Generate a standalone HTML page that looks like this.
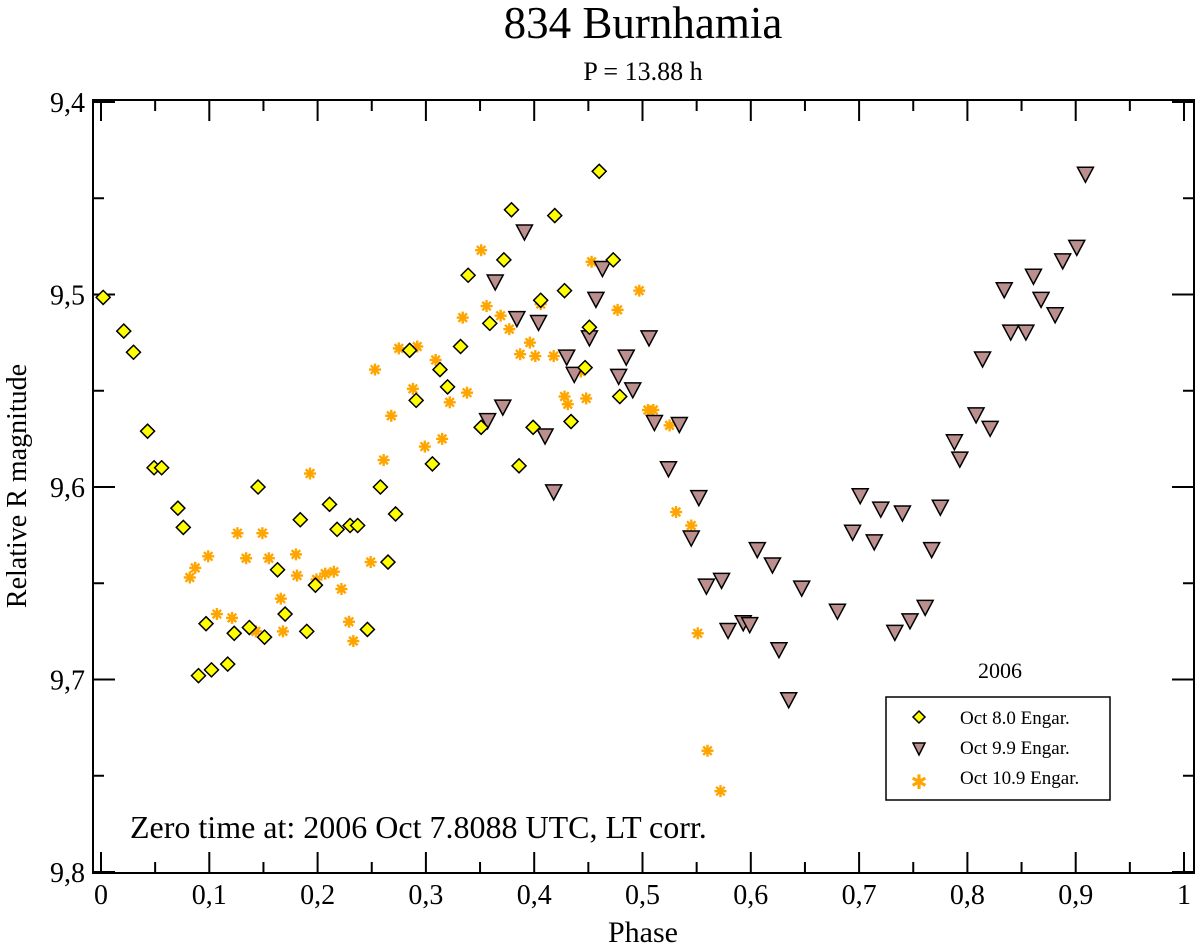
<!DOCTYPE html>
<html><head><meta charset="utf-8"><style>
body{margin:0;background:#fff}
svg text{font-family:"Liberation Serif",serif;fill:#000}
</style></head><body>
<svg id="chart" width="1200" height="947" viewBox="0 0 1200 947" xmlns="http://www.w3.org/2000/svg">
<text x="643" y="38" font-size="45" text-anchor="middle">834 Burnhamia</text>
<text x="643" y="80" font-size="26" text-anchor="middle">P = 13.88 h</text>
<text x="643" y="942" font-size="30" text-anchor="middle">Phase</text>
<text x="0" y="0" font-size="28" text-anchor="middle" transform="translate(26,486) rotate(-90)">Relative R magnitude</text>
<text x="130" y="838" font-size="32">Zero time at: 2006 Oct 7.8088 UTC, LT corr.</text>
<text x="1000" y="678" font-size="22" text-anchor="middle">2006</text>
<g id="ticks"></g>
<g id="marks"></g>
<rect x="93" y="100" width="1101" height="773" fill="none" stroke="#000" stroke-width="2"/>
<g>
<rect x="886" y="697" width="224" height="103" fill="#fff" stroke="#000" stroke-width="1.5"/>
<polygon points="919,711 925,717 919,723 913,717" fill="#ffff00" stroke="#000" stroke-width="1.5"/>
<text x="960" y="724" font-size="19">Oct 8.0 Engar.</text>
<polygon points="913,743 925,743 919,755" fill="#bc8f8f" stroke="#000" stroke-width="1.5"/>
<text x="960" y="754" font-size="19">Oct 9.9 Engar.</text>
<text x="919" y="789" font-size="20" text-anchor="middle" style="fill:#ffa500;font-family:'DejaVu Sans',sans-serif">✱</text>
<text x="960" y="784" font-size="19">Oct 10.9 Engar.</text>
</g>
</svg>
<script>
const xTickLabels=["0","0,1","0,2","0,3","0,4","0,5","0,6","0,7","0,8","0,9","1"];
const yTickLabels=["9,4","9,5","9,6","9,7","9,8"];
const oct8Phase=[0.002,0.021,0.030,0.043,0.049,0.056,0.071,0.076,0.090,0.097,0.102,0.117,0.123,0.137,0.145,0.151,0.163,0.170,0.184,0.190,0.198,0.211,0.218,0.230,0.237,0.246,0.258,0.265,0.272,0.285,0.291,0.306,0.313,0.320,0.332,0.339,0.351,0.359,0.372,0.379,0.386,0.399,0.406,0.419,0.428,0.434,0.447,0.451,0.460,0.473,0.479];
const oct8Mag=[9.5015,9.519,9.530,9.571,9.590,9.590,9.611,9.621,9.698,9.671,9.695,9.692,9.676,9.673,9.600,9.678,9.643,9.666,9.617,9.675,9.651,9.609,9.622,9.620,9.620,9.674,9.600,9.639,9.614,9.529,9.555,9.588,9.539,9.548,9.527,9.490,9.569,9.515,9.482,9.456,9.589,9.569,9.503,9.459,9.498,9.566,9.538,9.517,9.436,9.482,9.553];
const oct9Phase=[0.357,0.364,0.371,0.384,0.391,0.404,0.410,0.418,0.430,0.437,0.451,0.457,0.463,0.478,0.485,0.491,0.506,0.511,0.524,0.534,0.545,0.552,0.559,0.573,0.579,0.593,0.599,0.606,0.620,0.626,0.635,0.647,0.680,0.694,0.701,0.714,0.720,0.733,0.740,0.747,0.761,0.767,0.775,0.788,0.793,0.808,0.814,0.821,0.834,0.840,0.854,0.861,0.868,0.881,0.888,0.901,0.909];
const oct9Mag=[9.565,9.493,9.558,9.512,9.467,9.514,9.573,9.602,9.532,9.541,9.522,9.502,9.486,9.542,9.532,9.549,9.522,9.566,9.590,9.567,9.626,9.605,9.651,9.648,9.674,9.670,9.671,9.632,9.640,9.684,9.710,9.652,9.664,9.623,9.604,9.628,9.611,9.675,9.613,9.669,9.662,9.632,9.610,9.576,9.585,9.562,9.533,9.569,9.497,9.519,9.519,9.490,9.502,9.510,9.482,9.475,9.437];
const oct10Phase=[0.082,0.087,0.099,0.107,0.121,0.126,0.134,0.143,0.149,0.155,0.166,0.168,0.180,0.181,0.193,0.199,0.207,0.215,0.222,0.229,0.233,0.249,0.253,0.261,0.268,0.275,0.288,0.292,0.299,0.309,0.315,0.322,0.334,0.338,0.351,0.356,0.369,0.377,0.387,0.396,0.401,0.406,0.418,0.428,0.431,0.443,0.448,0.453,0.477,0.497,0.505,0.510,0.525,0.531,0.545,0.551,0.560,0.572];
const oct10Mag=[9.647,9.642,9.636,9.666,9.668,9.624,9.637,9.675,9.624,9.637,9.658,9.675,9.635,9.646,9.593,9.648,9.645,9.644,9.653,9.670,9.680,9.639,9.539,9.586,9.563,9.528,9.549,9.527,9.579,9.534,9.575,9.556,9.512,9.551,9.477,9.506,9.511,9.518,9.531,9.525,9.532,9.505,9.532,9.553,9.557,9.540,9.554,9.483,9.508,9.498,9.560,9.560,9.568,9.613,9.620,9.676,9.737,9.758];
const NS="http://www.w3.org/2000/svg";
const X=p=>101+p*1083;
const Y=m=>102+(m-9.4)*1925;
function mk(tag,attrs,parent){const e=document.createElementNS(NS,tag);for(const k in attrs)e.setAttribute(k,attrs[k]);parent.appendChild(e);return e;}
const ticks=document.getElementById('ticks');
const marks=document.getElementById('marks');
xTickLabels.forEach((l,i)=>{const x=X(i/10);
 const t=mk('line',{x1:x,x2:x,y1:873,y2:852,stroke:'#000','stroke-width':2},ticks);
 
 
 const u=mk('line',{x1:x,x2:x,y1:100,y2:121,stroke:'#000','stroke-width':2},ticks);
 
 
 if(i<10){const xm=X(i/10+0.05);
  const m=mk('line',{x1:xm,x2:xm,y1:873,y2:862,stroke:'#000','stroke-width':2},ticks);
  
  
  const m2=mk('line',{x1:xm,x2:xm,y1:100,y2:111,stroke:'#000','stroke-width':2},ticks);
  
  }
 const tx=mk('text',{x:x,y:904,'font-size':28,'text-anchor':'middle'},ticks);tx.textContent=l;
 
 
});
yTickLabels.forEach((l,i)=>{const y=Y(9.4+i*0.1);
 const t=mk('line',{x1:93,x2:115,y1:y,y2:y,stroke:'#000','stroke-width':2},ticks);
 
 
 const r=mk('line',{x1:1172,x2:1194,y1:y,y2:y,stroke:'#000','stroke-width':2},ticks);
 
 
 if(i<4){const ym=Y(9.45+i*0.1);
  const m=mk('line',{x1:93,x2:104,y1:ym,y2:ym,stroke:'#000','stroke-width':2},ticks);
  
  
  const m2=mk('line',{x1:1183,x2:1194,y1:ym,y2:ym,stroke:'#000','stroke-width':2},ticks);
  
  }
 const tx=mk('text',{x:85,y:y+10,'font-size':28,'text-anchor':'end'},ticks);tx.textContent=l;
 
 
});
oct10Phase.forEach((p,i)=>{const x=X(p),y=Y(oct10Mag[i]);
 const g=mk('g',{stroke:'#ffa500','stroke-width':2.4},marks);
 
 
 for(let a=0;a<4;a++){const an=a*Math.PI/4;const dx=6*Math.cos(an),dy=6*Math.sin(an);
  mk('line',{x1:x-dx,y1:y-dy,x2:x+dx,y2:y+dy},g);}
});
oct9Phase.forEach((p,i)=>{const x=X(p),y=Y(oct9Mag[i]);
 const e=mk('polygon',{points:`${x-8},${y-6} ${x+8},${y-6} ${x},${y+9}`,fill:'#bc8f8f',stroke:'#000','stroke-width':1.5},marks);
 
 
});
oct8Phase.forEach((p,i)=>{const x=X(p),y=Y(oct8Mag[i]);
 const e=mk('polygon',{points:`${x},${y-7} ${x+7},${y} ${x},${y+7} ${x-7},${y}`,fill:'#ffff00',stroke:'#000','stroke-width':1.5},marks);
 
 
});
</script>
</body></html>
